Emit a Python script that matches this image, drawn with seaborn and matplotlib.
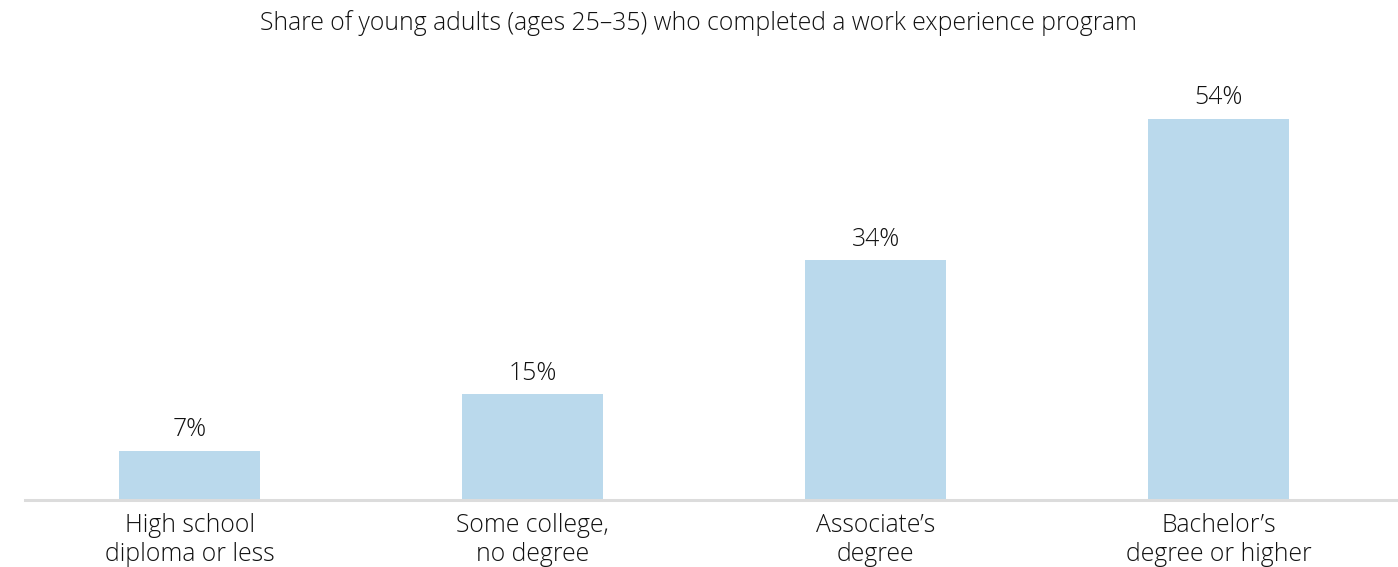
import matplotlib
matplotlib.use("Agg")
import matplotlib.pyplot as plt
import seaborn as sns
import pandas as pd

categories = ["High school\ndiploma or less", "Some college,\nno degree",
              "Associate\u2019s\ndegree", "Bachelor\u2019s\ndegree or higher"]
shares = [7, 15, 34, 54]
value_labels = ["7%", "15%", "34%", "54%"]
title = "Share of young adults (ages 25\u201335) who completed a work experience program"

sns.set_theme(style="white")
plt.rcParams["font.family"] = ["Open Sans", "DejaVu Sans"]

TEXT = "#111111"
FS = 17.8

df = pd.DataFrame({"category": categories, "share": shares})

fig = plt.figure(figsize=(13.98, 5.67), dpi=100)
ax = fig.add_axes([25 / 1398, (567 - 500) / 567, (1398 - 25) / 1398, 440 / 567])

sns.barplot(data=df, x="category", y="share", color="#bad9ec", saturation=1,
            width=0.41, linewidth=0, ax=ax)

ax.set_xlim(-0.48, 3.523)
ax.set_ylim(0, 62.3)

for i, (v, lab) in enumerate(zip(shares, value_labels)):
    ax.annotate(lab, (i, v), xytext=(0, 6), textcoords="offset points",
                ha="center", va="bottom", fontsize=FS, fontweight="light",
                color=TEXT)

for s in ["top", "right", "left"]:
    ax.spines[s].set_visible(False)
ax.spines["bottom"].set_color("#dcdcdc")
ax.spines["bottom"].set_linewidth(2.2)
ax.set_yticks([])
ax.set_xlabel("")
ax.set_ylabel("")
ax.tick_params(axis="x", length=0, pad=9, labelsize=FS, labelcolor=TEXT)
for t in ax.get_xticklabels():
    t.set_linespacing(1.22)
    t.set_fontweight("light")

fig.text(0.5, 1 - 23 / 567, title, ha="center", va="center", fontsize=FS,
         fontweight="light", color=TEXT)

fig.savefig("out.png", dpi=100, facecolor="white")
